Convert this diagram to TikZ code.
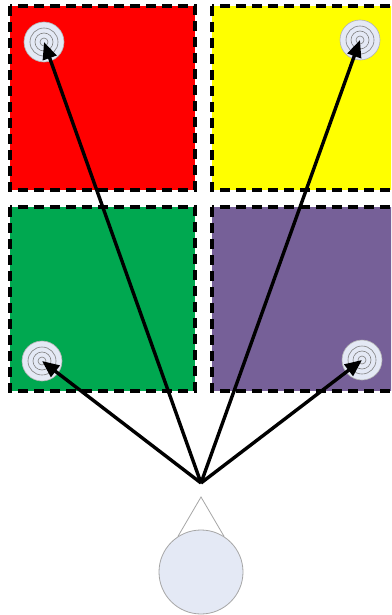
\documentclass[tikz,border=0pt]{standalone}
\usepackage{tikz}
\usetikzlibrary{arrows.meta}

\definecolor{zred}{RGB}{255,0,0}
\definecolor{zyellow}{RGB}{255,255,0}
\definecolor{zgreen}{RGB}{0,168,80}
\definecolor{zpurple}{RGB}{118,96,152}
\definecolor{paleblue}{RGB}{228,233,245}

\tikzset{
    zone/.style={draw=black,line width=2pt,dash pattern=on 5pt off 3pt},
    target/.style={circle,fill=paleblue,draw=gray!60,line width=0.3pt,minimum size=20pt,inner sep=0pt},
    ring/.style={draw=gray,line width=0.3pt},
    ray/.style={line width=1.7pt,-{Triangle[length=8.5pt,width=7pt]}}
}

\begin{document}
\begin{tikzpicture}[x=0.5pt,y=-0.5pt]
        \useasboundingbox (0,0) rectangle (391,615);
        \fill[white] (0,0) rectangle (391,615);
        \begin{scope}
            \clip (0,0) rectangle (391,615);
            \filldraw[zone,fill=zred] (10,6) rectangle (195,190);
            \filldraw[zone,fill=zyellow] (212,6) rectangle (397,190);
            \filldraw[zone,fill=zgreen] (10,207) rectangle (195,391);
            \filldraw[zone,fill=zpurple] (212,207) rectangle (397,391);
        \end{scope}
        % targets
        \node[target] (tred) at (44,42) {};
        \node[target] (tyellow) at (360,40) {};
        \node[target] (tgreen) at (42,361) {};
        \node[target] (tpurple) at (362,360) {};
        \foreach \t in {tred,tyellow,tgreen,tpurple} \foreach \r in {2,4.5,7} {
            \draw[ring] (\t.center) circle (\r pt);
        }
        % viewer
        \node[circle,fill=paleblue,draw=gray!70,line width=0.4pt,minimum size=42pt,inner sep=0pt] (eye) at (201,572) {};
        \coordinate (apex) at (201,497);
        \draw[gray!70,line width=0.4pt] (eye.123) -- (apex) -- (eye.57);
        \coordinate (src) at (201,483);
        \foreach \t in {tred,tyellow,tgreen,tpurple}
            \draw[ray] (src) -- (\t.center);
    \end{tikzpicture}
\end{document}
